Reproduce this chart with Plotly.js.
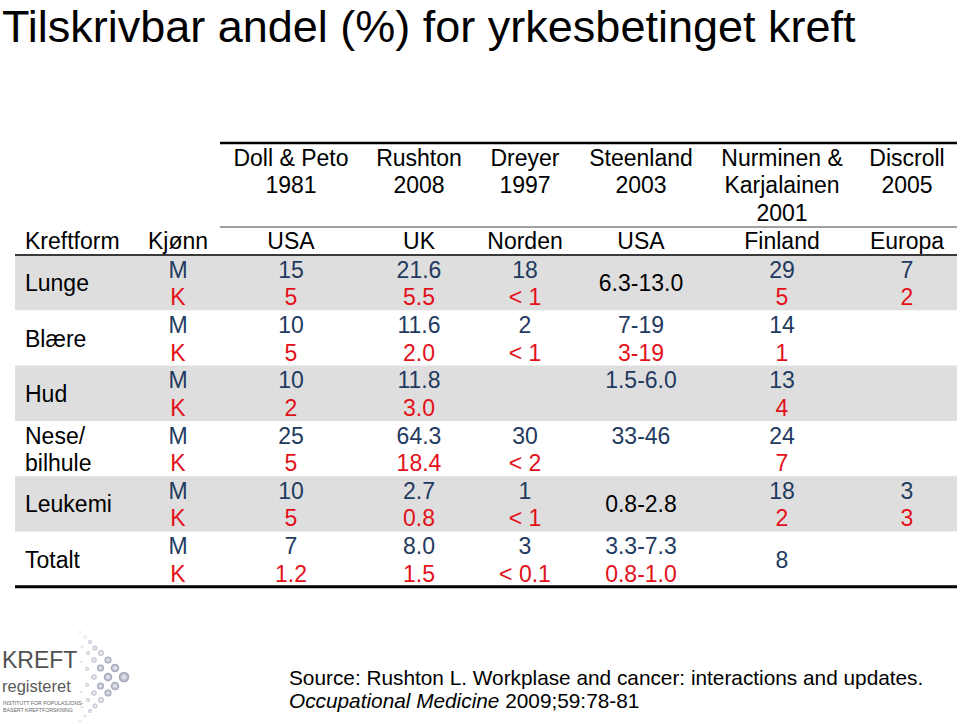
<!DOCTYPE html>
<html>
<head>
<meta charset="utf-8">
<script src="https://cdn.plot.ly/plotly-3.0.1.min.js"></script>
<style>
  html, body { margin: 0; padding: 0; background: #ffffff; }
  #chart { width: 960px; height: 724px; }
</style>
</head>
<body>
<div id="chart"></div>
<script>
// ---------------- DATA ----------------
const chartTitle = "Tilskrivbar andel (%) for yrkesbetinget kreft";
const studyLabels = ["Doll & Peto<br>1981", "Rushton<br>2008", "Dreyer<br>1997", "Steenland<br>2003", "Nurminen &<br>Karjalainen<br>2001", "Discroll<br>2005"];
const countries = ["USA", "UK", "Norden", "USA", "Finland", "Europa"];
const headerForm = "Kreftform";
const headerSex = "Kjønn";
const cancerForms = ["Lunge", "Blære", "Hud", "Nese/<br>bilhule", "Leukemi", "Totalt"];
const sexLabels = ["M", "K"];
const maleValues = [
  ["15", "21.6", "18", "", "29", "7"],
  ["10", "11.6", "2", "7-19", "14", ""],
  ["10", "11.8", "", "1.5-6.0", "13", ""],
  ["25", "64.3", "30", "33-46", "24", ""],
  ["10", "2.7", "1", "", "18", "3"],
  ["7", "8.0", "3", "3.3-7.3", "", ""]
];
const femaleValues = [
  ["5", "5.5", "< 1", "", "5", "2"],
  ["5", "2.0", "< 1", "3-19", "1", ""],
  ["2", "3.0", "", "", "4", ""],
  ["5", "18.4", "< 2", "", "7", ""],
  ["5", "0.8", "< 1", "", "2", "3"],
  ["1.2", "1.5", "< 0.1", "0.8-1.0", "", ""]
];
const bothSexValues = [
  ["", "", "", "6.3-13.0", "", ""],
  ["", "", "", "", "", ""],
  ["", "", "", "", "", ""],
  ["", "", "", "", "", ""],
  ["", "", "", "0.8-2.8", "", ""],
  ["", "", "", "", "8", ""]
];
const sourceLine1 = "Source: Rushton L. Workplase and cancer: interactions and updates.";
const sourceLine2 = "<i>Occupational Medicine</i> 2009;59:78-81";
const logoWord1 = "KREFT";
const logoWord2 = "registeret";
const logoSub1 = "INSTITUTT FOR POPULASJONS-";
const logoSub2 = "BASERT KREFTFORSKNING";

// ---------------- LAYOUT / STYLE ----------------
const FONT = "Liberation Sans, Arial, Helvetica, sans-serif";
const NAVY = "#1f3a60";
const RED = "#e3101a";
const BAND = "#dedede";
const FS = 23;

const colX = [291, 419, 525, 641, 782, 907];
const formX = 25, sexX = 178;
const headTop = 160, lineGap = 27.5, regionY = 243;
const bodyTop = 255, rowH = 55.3;
const mOff = 17, kOff = 44.5, midOff = 30.5;
const tableLeft = 15, tableRight = 957, headRuleLeft = 220;

// logo dots (decoration)
const logoDotX = [80, 85, 90, 95, 101, 108, 115, 124, 115, 108, 101, 95, 90, 85, 80,
                  82, 88, 94, 100.5, 108, 100.5, 94, 88, 82,
                  81, 87, 94, 87, 81];
const logoDotY = [632, 637, 642, 648, 653, 660, 668, 677, 686, 693, 700, 706, 711, 716, 721,
                  647, 653, 660, 668, 677, 686, 693, 700, 707,
                  662, 669, 677, 685, 692];
const logoDotSize = [2.5, 3, 4, 5, 6, 7, 8.5, 10.5, 8.5, 7, 6, 5, 4, 3, 2.5,
                     3, 4, 5.5, 7, 8.5, 7, 5.5, 4, 3,
                     2.5, 4, 5.5, 4, 2.5];

// ---------------- BUILD ----------------
const center = {x: [], y: [], text: [], color: []};
const left = {x: [], y: [], text: [], color: []};
function push(list, x, y, t, c) {
  if (t === "" || t == null) return;
  list.x.push(x); list.y.push(y); list.text.push(t); list.color.push(c);
}

studyLabels.forEach((s, c) => {
  s.split("<br>").forEach((line, i) => push(center, colX[c], headTop + i * lineGap, line, "#000000"));
});
push(left, formX, regionY, headerForm, "#000000");
push(center, sexX, regionY, headerSex, "#000000");
countries.forEach((s, c) => push(center, colX[c], regionY, s, "#000000"));

cancerForms.forEach((form, r) => {
  const top = bodyTop + r * rowH;
  const lines = form.split("<br>");
  const n = lines.length;
  lines.forEach((line, i) => {
    const y = n === 1 ? top + midOff : (i === 0 ? top + mOff : top + kOff);
    push(left, formX, y, line, "#000000");
  });
  push(center, sexX, top + mOff, sexLabels[0], NAVY);
  push(center, sexX, top + kOff, sexLabels[1], RED);
  colX.forEach((x, c) => {
    push(center, x, top + mOff, maleValues[r][c], NAVY);
    push(center, x, top + kOff, femaleValues[r][c], RED);
    const b = bothSexValues[r][c];
    push(center, x, top + midOff, b, b.indexOf("-") >= 0 ? "#000000" : NAVY);
  });
});

const traces = [
  {type: "scatter", mode: "text", x: center.x, y: center.y, text: center.text,
   textposition: "middle center", textfont: {family: FONT, size: FS, color: center.color},
   hoverinfo: "skip", cliponaxis: false, showlegend: false},
  {type: "scatter", mode: "text", x: left.x, y: left.y, text: left.text,
   textposition: "middle right", textfont: {family: FONT, size: FS, color: left.color},
   hoverinfo: "skip", cliponaxis: false, showlegend: false},
  {type: "scatter", mode: "markers", x: logoDotX, y: logoDotY,
   marker: {size: logoDotSize,
            color: logoDotSize.map(s => s >= 7 ? "#6c7390" : (s >= 4 ? "#9ea3b6" : "#c9ccd5")),
            gradient: {type: "radial", color: "#f2f2f6"}, line: {width: 0}},
   hoverinfo: "skip", cliponaxis: false, showlegend: false}
];

const shapes = [];
cancerForms.forEach((f, r) => {
  if (r % 2 === 0) {
    shapes.push({type: "rect", xref: "x", yref: "y", layer: "below",
      x0: tableLeft, x1: tableRight, y0: bodyTop + r * rowH, y1: bodyTop + (r + 1) * rowH,
      fillcolor: BAND, line: {width: 0}});
  }
});
shapes.push({type: "line", xref: "x", yref: "y", x0: headRuleLeft, x1: tableRight, y0: 143, y1: 143, line: {color: "#000000", width: 2.5}});
shapes.push({type: "line", xref: "x", yref: "y", x0: headRuleLeft, x1: tableRight, y0: 227, y1: 227, line: {color: "#404040", width: 1}});
shapes.push({type: "line", xref: "x", yref: "y", x0: tableLeft, x1: tableRight, y0: bodyTop, y1: bodyTop, line: {color: "#3a3a3a", width: 2}});
shapes.push({type: "line", xref: "x", yref: "y", x0: tableLeft, x1: tableRight, y0: bodyTop + cancerForms.length * rowH, y1: bodyTop + cancerForms.length * rowH, line: {color: "#000000", width: 3}});

const annotations = [
  {xref: "x", yref: "y", x: 287, y: 677, xanchor: "left", yanchor: "middle", showarrow: false,
   text: sourceLine1, font: {family: FONT, size: 20.8, color: "#000000"}},
  {xref: "x", yref: "y", x: 287, y: 700, xanchor: "left", yanchor: "middle", showarrow: false,
   text: sourceLine2, font: {family: FONT, size: 20.8, color: "#000000"}},
  {xref: "x", yref: "y", x: 0, y: 660, xanchor: "left", yanchor: "middle", showarrow: false,
   text: logoWord1, font: {family: FONT, size: 23, color: "#505050"}},
  {xref: "x", yref: "y", x: 0, y: 686, xanchor: "left", yanchor: "middle", showarrow: false,
   text: logoWord2, font: {family: FONT, size: 16.5, color: "#5a5a5a"}},
  {xref: "x", yref: "y", x: 1, y: 703, xanchor: "left", yanchor: "middle", showarrow: false,
   text: logoSub1, font: {family: FONT, size: 5.2, color: "#666666"}},
  {xref: "x", yref: "y", x: 1, y: 710, xanchor: "left", yanchor: "middle", showarrow: false,
   text: logoSub2, font: {family: FONT, size: 5.2, color: "#666666"}}
];

const layout = {
  width: 960, height: 724,
  margin: {l: 0, r: 0, t: 0, b: 0, pad: 0},
  paper_bgcolor: "#ffffff", plot_bgcolor: "#ffffff",
  title: {text: chartTitle, font: {family: FONT, size: 45, color: "#000000"},
          x: 0.002, xref: "container", xanchor: "left",
          y: 1 - 26 / 724, yref: "container", yanchor: "middle", pad: {t: 0, l: 0, r: 0, b: 0}},
  xaxis: {range: [0, 960], visible: false, fixedrange: true},
  yaxis: {range: [724, 0], visible: false, fixedrange: true},
  showlegend: false, hovermode: false,
  shapes: shapes, annotations: annotations
};

Plotly.newPlot("chart", traces, layout, {displayModeBar: false, staticPlot: true});
</script>
</body>
</html>
